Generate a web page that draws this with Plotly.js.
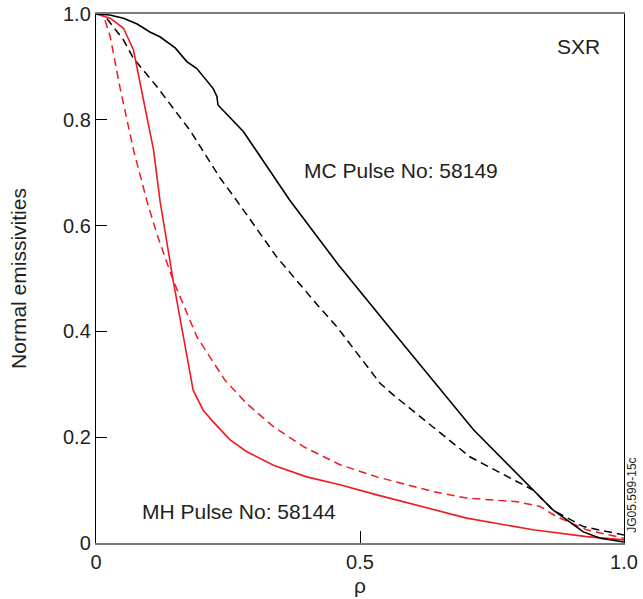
<!DOCTYPE html>
<html><head><meta charset="utf-8">
<script src="https://cdn.plot.ly/plotly-3.0.1.min.js"></script>
<style>body{margin:0;background:#fff}#chart{width:643px;height:599px}</style>
</head><body><div id="chart"></div>
<script>
// MC Pulse No: 58149 (black solid)
const mcSolidX = [0, 0.026, 0.052, 0.078, 0.102, 0.121, 0.150, 0.172, 0.191, 0.222, 0.229, 0.231, 0.279, 0.342, 0.367, 0.459, 0.513, 0.557, 0.715, 0.841, 0.866, 0.923, 0.955, 1.0];
const mcSolidY = [1.0, 0.998, 0.992, 0.981, 0.966, 0.957, 0.936, 0.910, 0.897, 0.859, 0.844, 0.828, 0.778, 0.686, 0.648, 0.526, 0.459, 0.406, 0.214, 0.0875, 0.062, 0.021, 0.009, 0.002];
// black dashed
const mcDashX = [0, 0.014, 0.052, 0.071, 0.115, 0.178, 0.235, 0.266, 0.342, 0.421, 0.456, 0.538, 0.563, 0.708, 0.828, 0.866, 0.923, 1.0];
const mcDashY = [1.0, 1.0, 0.951, 0.916, 0.863, 0.780, 0.690, 0.648, 0.541, 0.448, 0.409, 0.302, 0.280, 0.163, 0.100, 0.062, 0.031, 0.015];
// MH Pulse No: 58144 (red solid)
const mhSolidX = [0, 0.027, 0.052, 0.071, 0.090, 0.109, 0.121, 0.146, 0.184, 0.203, 0.222, 0.254, 0.285, 0.336, 0.399, 0.462, 0.532, 0.702, 0.828, 0.929, 1.0];
const mhSolidY = [1.0, 0.992, 0.973, 0.932, 0.837, 0.743, 0.648, 0.497, 0.289, 0.251, 0.229, 0.195, 0.173, 0.147, 0.125, 0.110, 0.091, 0.047, 0.025, 0.012, 0.006];
// red dashed
const mhDashX = [0, 0.014, 0.027, 0.045, 0.071, 0.096, 0.115, 0.146, 0.191, 0.244, 0.285, 0.336, 0.393, 0.462, 0.532, 0.576, 0.640, 0.702, 0.797, 0.841, 0.872, 0.929, 1.0];
const mhDashY = [1.0, 0.998, 0.957, 0.863, 0.743, 0.648, 0.585, 0.497, 0.390, 0.308, 0.264, 0.220, 0.182, 0.148, 0.125, 0.113, 0.097, 0.085, 0.078, 0.069, 0.050, 0.025, 0.009];

const xTickVals = [0, 0.5, 1.0];
const xTickText = ['0', '0.5', '1.0'];
const yTickVals = [0, 0.2, 0.4, 0.6, 0.8, 1.0];
const yTickText = ['0', '0.2', '0.4', '0.6', '0.8', '1.0'];

const FONT = 'Liberation Sans, Arial, Helvetica, sans-serif';
const TXT = '#231f20';
const RED = '#ed1c24';

const traces = [
  {x: mcDashX, y: mcDashY, mode: 'lines', line: {color: '#000', width: 1.5, dash: '8px,5px'}, hoverinfo: 'skip'},
  {x: mhDashX, y: mhDashY, mode: 'lines', line: {color: RED, width: 1.5, dash: '8px,5px'}, hoverinfo: 'skip'},
  {x: mhSolidX, y: mhSolidY, mode: 'lines', line: {color: RED, width: 1.6}, hoverinfo: 'skip'},
  {x: mcSolidX, y: mcSolidY, mode: 'lines', line: {color: '#000', width: 1.6}, hoverinfo: 'skip'}
];

const layout = {
  width: 643, height: 599,
  margin: {l: 96, r: 19, t: 14, b: 56},
  paper_bgcolor: '#fff', plot_bgcolor: '#fff',
  showlegend: false,
  font: {family: FONT, color: TXT, size: 20},
  xaxis: {
    range: [0, 1], tickvals: xTickVals, ticktext: xTickText,
    ticks: 'inside', ticklen: 12, tickcolor: '#000', tickwidth: 1,
    showline: true, linecolor: '#7a7a7a', linewidth: 2, mirror: true,
    showgrid: false, zeroline: false,
    tickfont: {size: 20, family: FONT, color: TXT},
    title: {text: 'ρ', font: {size: 21, family: FONT, color: TXT}, standoff: 6}
  },
  yaxis: {
    range: [0, 1], tickvals: yTickVals, ticktext: yTickText,
    ticks: 'inside', ticklen: 11, tickcolor: '#000', tickwidth: 1,
    showline: true, linecolor: '#000', linewidth: 1.2, mirror: true,
    showgrid: false, zeroline: false,
    tickfont: {size: 20, family: FONT, color: TXT},
    title: {text: 'Normal emissivities', font: {size: 21, family: FONT, color: TXT}, standoff: 30}
  },
  annotations: [
    {x: 0.390, y: 0.705, xref: 'x', yref: 'y', xanchor: 'left', yanchor: 'middle', text: 'MC Pulse No: 58149', showarrow: false, font: {size: 21, family: FONT, color: TXT}},
    {x: 0.869, y: 0.939, xref: 'x', yref: 'y', xanchor: 'left', yanchor: 'middle', text: 'SXR', showarrow: false, font: {size: 21, family: FONT, color: TXT}},
    {x: 0.083, y: 0.059, xref: 'x', yref: 'y', xanchor: 'left', yanchor: 'middle', text: 'MH Pulse No: 58144', showarrow: false, font: {size: 21, family: FONT, color: TXT}},
    {x: 1.015, y: 0.091, xref: 'paper', yref: 'paper', xanchor: 'center', yanchor: 'middle', text: 'JG05.599-15c', textangle: -90, showarrow: false, font: {size: 12, family: FONT, color: TXT}}
  ]
};

Plotly.newPlot('chart', traces, layout, {staticPlot: true, displayModeBar: false});
</script></body></html>
